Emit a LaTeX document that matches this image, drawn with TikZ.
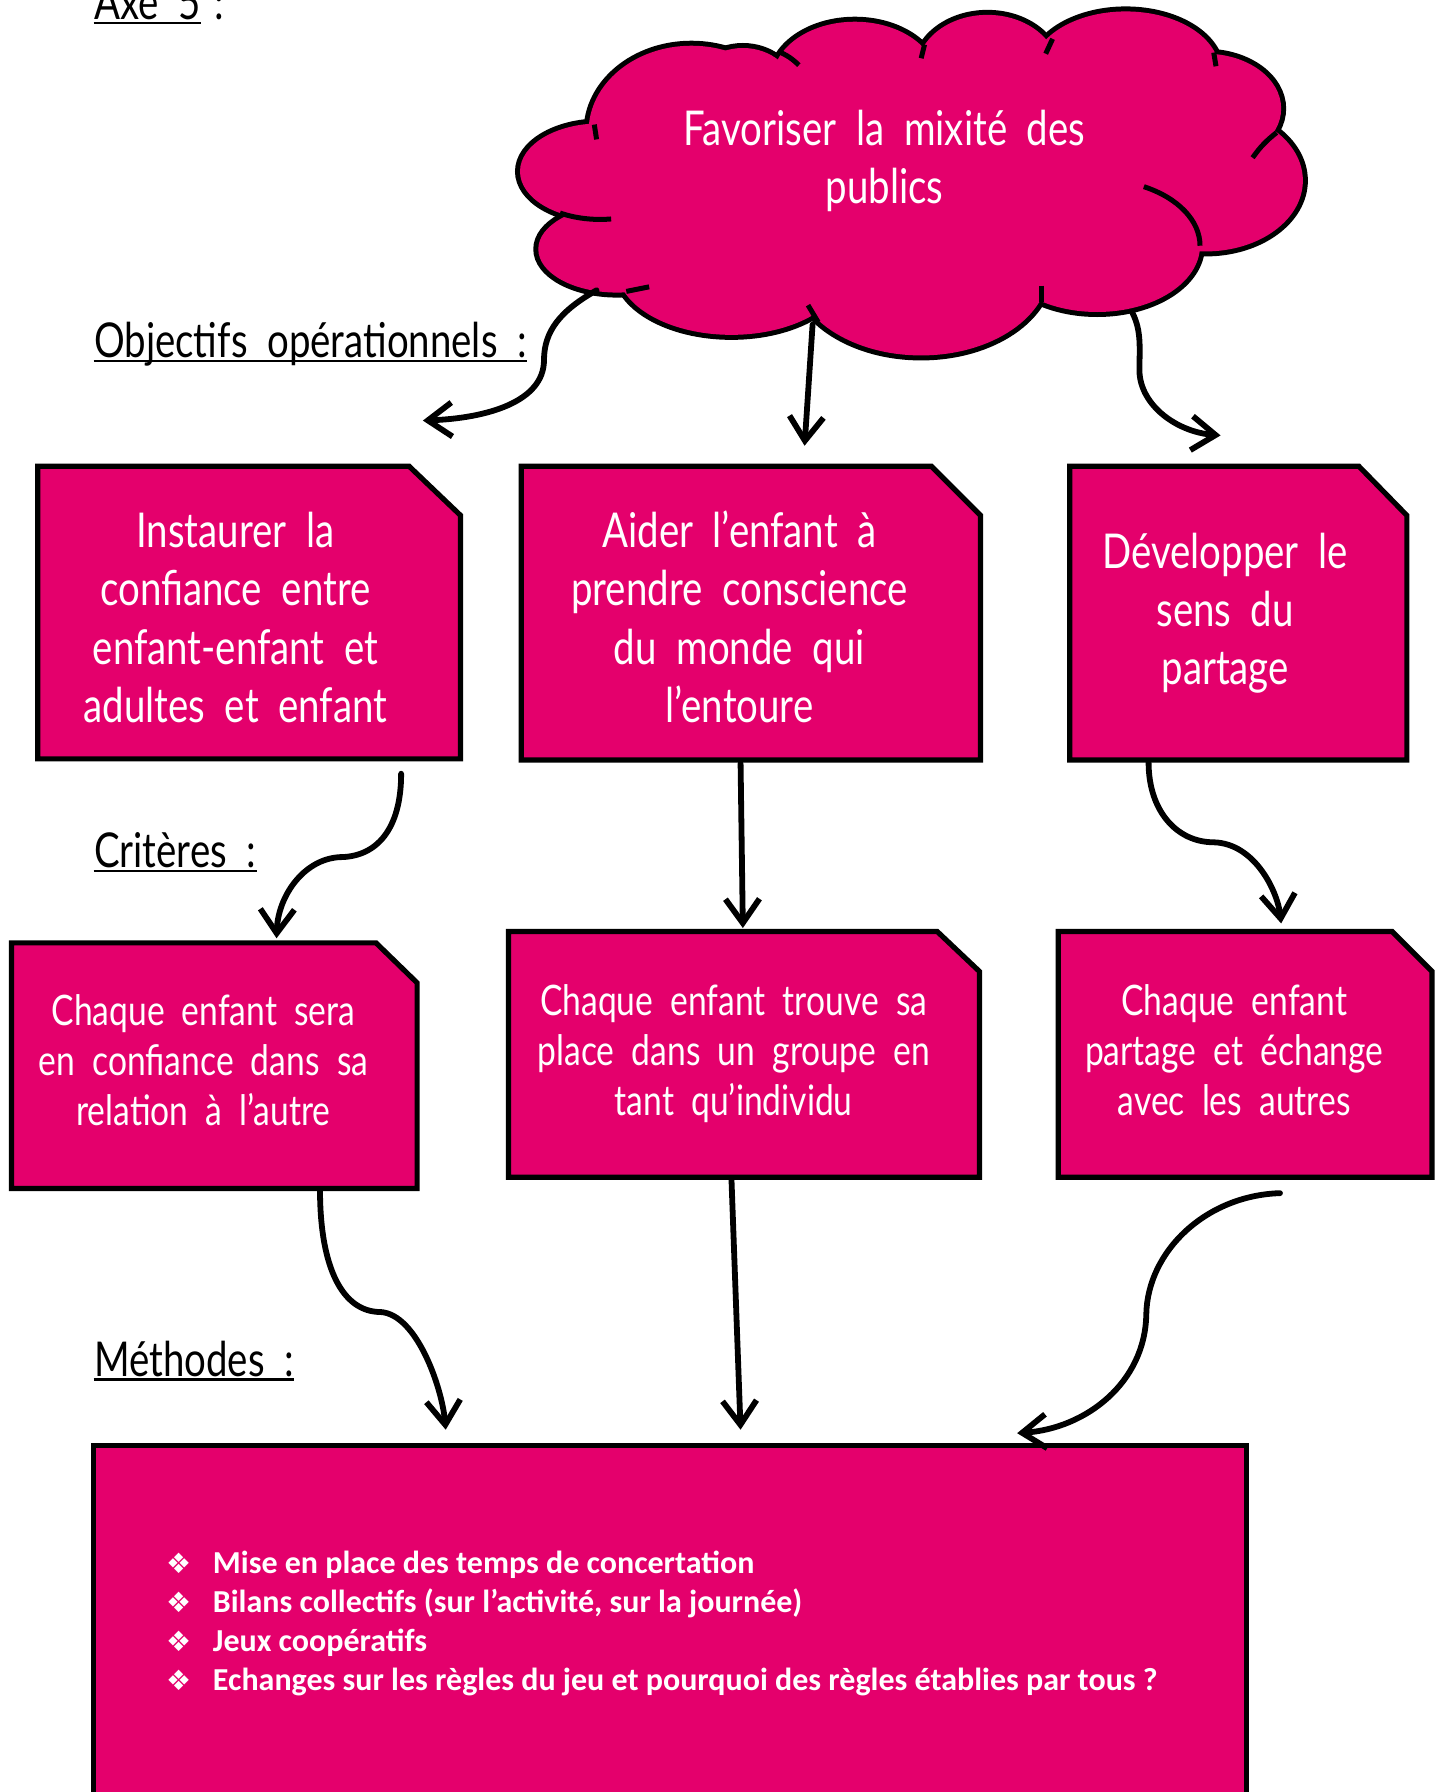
\documentclass[tikz,border=0pt]{standalone}
\usepackage{fontspec}
\setmainfont{Lato}[FakeStretch=0.8,WordSpace=2]
\newfontfamily\listfont{Carlito}
\newfontfamily\dejavu{DejaVu Sans}
\usetikzlibrary{arrows.meta,calc,fit}
\definecolor{pinkfill}{RGB}{228,0,108}
\newcommand\puffList{525/150/70/42, 540/218/69/38, 640/235/100/58, 806/235/112/76, 960/215/90/58, 1055/158/85/62, 1055/95/66/48, 985/62/82/52, 864/62/62/49, 748/70/72/51, 605/115/90/75, 650/80/45/38}
\newcommand\snipbox[3]{\draw[boxline] (#1.south west) -- (#1.north west) -- ($(#1.north east)+(-#2,0)$) -- ($(#1.north east)+(0,#3)$) -- (#1.south east) -- cycle;}
\newcommand\blt{\makebox[23.4pt][l]{\dejavu\fontsize{14}{14}\selectfont ❖}}
\begin{document}
\begin{tikzpicture}[x=0.5714pt,y=-0.5714pt,
  boxline/.style={draw=black, line width=2.6pt, fill=pinkfill, line join=miter},
  area/.style={inner sep=0pt, outer sep=0pt},
  boxtext/.style={text=white, align=center, inner sep=0pt, anchor=base, font=\fontsize{24}{29.1}\selectfont},
  smalltext/.style={boxtext, font=\fontsize{21}{25.1}\selectfont},
  lbl/.style={text=black, inner sep=0pt, anchor=base west, font=\fontsize{24}{29}\selectfont},
  uline/.style={draw=black, line width=1.1pt},
  cloudline/.style={draw=black, line width=2.5pt},
  conn/.style={draw=black, line width=2.9pt, line cap=round, -{Straight Barb[length=12pt,width=17pt]}}]
\useasboundingbox (0,0) rectangle (1262,1568);

% ---- cloud ----
\foreach \cx/\cy/\rx/\ry in \puffList {
  \draw[line width=5pt] (\cx,\cy) ellipse [x radius=\rx, y radius=\ry];
}
\foreach \cx/\cy/\rx/\ry in \puffList {
  \fill[pinkfill] (\cx,\cy) ellipse [x radius=\rx, y radius=\ry];
}
\fill[pinkfill] (530,118) -- (683,60) -- (808,55) -- (920,50) -- (1058,60) -- (1085,136) -- (1042,210) -- (911,250) -- (712,258) -- (555,243) -- (503,185) -- cycle;
\draw[cloudline] (520,109) -- (522,122);
\draw[cloudline] (681,45) to[bend left=10] (699,57);
\draw[cloudline] (809,39) -- (806,51);
\draw[cloudline] (921,34) -- (915,47);
\draw[cloudline] (1062,46) -- (1064,58);
\draw[cloudline] (1096,138) to[bend left=8] (1117,116);
\draw[cloudline] (960,215) ++(-63:90 and 58) arc[start angle=-63, end angle=0, x radius=90, y radius=58];
\draw[cloudline] (911,250) -- (911,264);
\draw[cloudline] (707,267) -- (716,282);
\draw[cloudline] (548,255) -- (568,251);
\draw[cloudline] (525,150) ++(120:70 and 42) arc[start angle=120, end angle=82, x radius=70, y radius=42];
\node[boxtext] (t0) at (774,178) {Favoriser la mixité des\\publics};

% ---- boxes ----
\node[area, fit={(33,408) (403,664)}] (b1) {};
\node[area, fit={(456,408) (858,665)}] (b2) {};
\node[area, fit={(936,408) (1231,665)}] (b3) {};
\node[area, fit={(10,825) (365,1040)}] (b4) {};
\node[area, fit={(445,815) (857,1030)}] (b5) {};
\node[area, fit={(926,815) (1253,1030)}] (b6) {};
\node[area, fit={(82,1265) (1091,1620)}] (b7) {};
\snipbox{b1}{45}{43}
\snipbox{b2}{43}{43}
\snipbox{b3}{42}{43}
\snipbox{b4}{36}{35}
\snipbox{b5}{37}{35}
\snipbox{b6}{35}{35}
\draw[boxline] (b7.south west) rectangle (b7.north east);

\node[boxtext] (t1) at (206,632) {Instaurer la\\confiance entre\\enfant-enfant et\\adultes et enfant};
\node[boxtext] (t2) at (647,632) {Aider l’enfant à\\prendre conscience\\du monde qui\\l’entoure};
\node[boxtext] (t3) at (1072,599) {Développer le\\sens du\\partage};
\node[smalltext] (t4) at (178,985) {Chaque enfant sera\\en confiance dans sa\\relation à l’autre};
\node[smalltext] (t5) at (642,976) {Chaque enfant trouve sa\\place dans un groupe en\\tant qu’individu};
\node[smalltext] (t6) at (1080,976) {Chaque enfant\\partage et échange\\avec les autres};
\node[anchor=base west, inner sep=0pt, text=white, align=left,
      font=\listfont\fontsize{16}{19.4}\selectfont\bfseries] (list) at (145,1479)
  {\blt Mise en place des temps de concertation\\
   \blt Bilans collectifs (sur l’activité, sur la journée)\\
   \blt Jeux coopératifs\\
   \blt Echanges sur les règles du jeu et pourquoi des règles établies par tous ?};

% ---- labels ----
\node[lbl] (axe) at (82,17) {Axe 5};
\node[lbl] (axecolon) at (187,17) {:};
\node[lbl] (obj) at (82,313) {Objectifs opérationnels :};
\node[lbl] (crit) at (82,759) {Critères :};
\node[lbl] (meth) at (82,1204) {Méthodes :};
\draw[uline] ($(axe.base west)+(0,3)$) -- ($(axe.base east)+(0,3)$);
\draw[uline] ($(obj.base west)+(0,3)$) -- ($(obj.base east)+(0,3)$);
\draw[uline] ($(crit.base west)+(0,3)$) -- ($(crit.base east)+(0,3)$);
\draw[uline] ($(meth.base west)+(0,3)$) -- ($(meth.base east)+(0,3)$);

% ---- connectors ----
\coordinate (a1s) at (522,254); \coordinate (a1e) at (370,368);
\coordinate (a2s) at (711,284); \coordinate (a2e) at (704,390);
\coordinate (a3s) at (991,274); \coordinate (a3e) at (1068,381);
\coordinate (a4s) at (351,677); \coordinate (a4e) at (242,821);
\coordinate (a5s) at (648,668); \coordinate (a5e) at (650,812);
\coordinate (a6s) at (1005,667); \coordinate (a6e) at (1121,808);
\coordinate (a7s) at (280,1041); \coordinate (a7e) at (390,1251);
\coordinate (a8s) at (640,1031); \coordinate (a8e) at (648,1251);
\coordinate (a9s) at (1120,1044); \coordinate (a9e) at (890,1254);
\draw[conn] (a1s) .. controls (490,272) and (476,290) .. (476,315) .. controls (476,352) and (425,366) .. (a1e);
\draw[conn] (a2s) -- (a2e);
\draw[conn] (a3s) .. controls (999,290) and (997,305) .. (997,325) .. controls (998,355) and (1030,378) .. (a3e);
\draw[conn] (a4s) .. controls (351,725) and (330,750) .. (297,750) .. controls (265,752) and (243,785) .. (a4e);
\draw[conn] (a5s) -- (a5e);
\draw[conn] (a6s) .. controls (1005,710) and (1030,737) .. (1062,737) .. controls (1098,738) and (1118,780) .. (a6e);
\draw[conn] (a7s) .. controls (280,1110) and (300,1148) .. (333,1148) .. controls (365,1150) and (387,1215) .. (a7e);
\draw[conn] (a8s) -- (a8e);
\draw[conn] (a9s) .. controls (1055,1046) and (1004,1095) .. (1003,1150) .. controls (1002,1210) and (950,1250) .. (a9e);
\end{tikzpicture}
\end{document}
